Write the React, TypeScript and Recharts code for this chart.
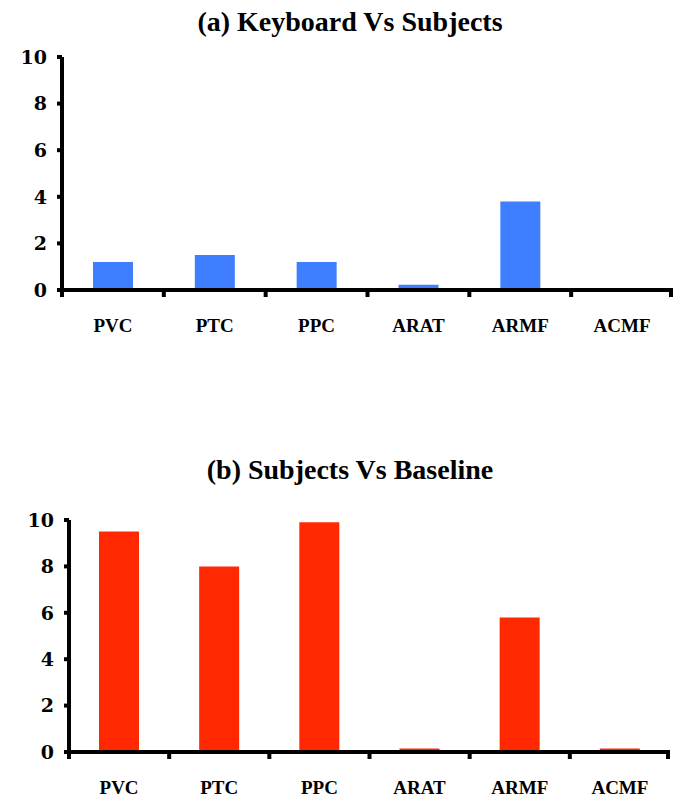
import { BarChart, Bar, XAxis, YAxis } from "recharts";

const CATEGORIES = ["PVC", "PTC", "PPC", "ARAT", "ARMF", "ACMF"];
const KEYBOARD_VS_SUBJECTS = [1.2, 1.5, 1.2, 0.22, 3.8, 0];
const SUBJECTS_VS_BASELINE = [9.5, 8.0, 9.9, 0.15, 5.8, 0.15];
const Y_TICKS = [0, 2, 4, 6, 8, 10];

const LABEL_FONT = '"Liberation Serif", "Times New Roman", serif';
const DIGIT_FONT = '"DejaVu Serif", Georgia, serif';

function XTick(props: any) {
  const { x, y, payload, index, band } = props;
  const half = band / 2;
  return (
    <g>
      <line x1={x - half} y1={y} x2={x - half} y2={y + 7} stroke="#000" strokeWidth={4} />
      {index === CATEGORIES.length - 1 && (
        <line x1={x + half - 2} y1={y} x2={x + half - 2} y2={y + 7} stroke="#000" strokeWidth={4} />
      )}
      <text
        x={x}
        y={y + 42}
        textAnchor="middle"
        fontFamily={LABEL_FONT}
        fontWeight="bold"
        fontSize={19}
        fill="#000"
      >
        {payload.value}
      </text>
    </g>
  );
}

interface PanelProps {
  title: string;
  values: number[];
  color: string;
  top: number;
  titleTop: number;
  plotTop: number;
  plotLeft: number;
  plotRight: number;
  plotHeight: number;
}

function Panel({ title, values, color, top, titleTop, plotTop, plotLeft, plotRight, plotHeight }: PanelProps) {
  const data = CATEGORIES.map((name, i) => ({ name, value: values[i] }));
  const width = 673;
  const height = plotTop + plotHeight + 70;
  const band = (width - plotLeft - plotRight) / CATEGORIES.length;
  return (
    <div style={{ position: "absolute", left: 0, top, width, height }}>
      <div
        style={{
          position: "absolute",
          left: 0,
          top: titleTop,
          width: 700,
          textAlign: "center",
          fontFamily: LABEL_FONT,
          fontWeight: "bold",
          fontSize: 28,
          lineHeight: "32px",
        }}
      >
        {title}
      </div>
      <BarChart
        width={width}
        height={height}
        data={data}
        margin={{ top: plotTop, right: plotRight, bottom: 0, left: plotLeft - 50 }}
        barCategoryGap={0}
      >
        <XAxis
          dataKey="name"
          height={70}
          axisLine={{ stroke: "#000", strokeWidth: 4 }}
          tickLine={false}
          tickSize={0}
          tickMargin={0}
          interval={0}
          tick={<XTick band={band} />}
        />
        <YAxis
          width={50}
          domain={[0, 10]}
          ticks={Y_TICKS}
          interval={0}
          axisLine={{ stroke: "#000", strokeWidth: 4 }}
          tickLine={{ stroke: "#000", strokeWidth: 4 }}
          tickSize={5}
          tickMargin={10}
          tick={{ fill: "#000", fontFamily: DIGIT_FONT, fontWeight: "bold", fontSize: 19 }}
        />
        <Bar dataKey="value" fill={color} barSize={40} isAnimationActive={false} />
      </BarChart>
    </div>
  );
}

export default function App() {
  return (
    <div style={{ position: "absolute", left: 0, top: 0, width: 673, height: 800, background: "#fff" }}>
      <Panel
        title="(a) Keyboard Vs Subjects"
        values={KEYBOARD_VS_SUBJECTS}
        color="#3f7fff"
        top={0}
        titleTop={6}
        plotTop={57}
        plotLeft={62}
        plotRight={0}
        plotHeight={233}
      />
      <Panel
        title="(b) Subjects Vs Baseline"
        values={SUBJECTS_VS_BASELINE}
        color="#ff2800"
        top={455}
        titleTop={-1}
        plotTop={65}
        plotLeft={69}
        plotRight={3}
        plotHeight={232}
      />
    </div>
  );
}
